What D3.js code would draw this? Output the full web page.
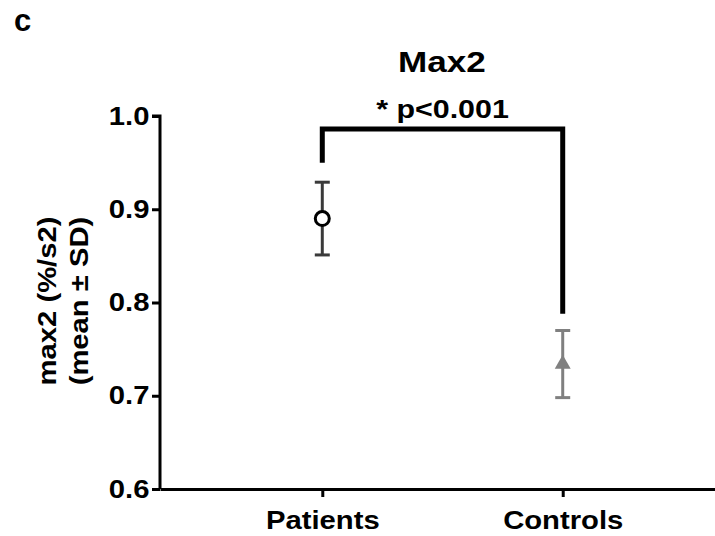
<!DOCTYPE html>
<html>
<head>
<meta charset="utf-8">
<script src="https://cdn.jsdelivr.net/npm/d3@7"></script>
<style>
  body { margin: 0; background: #fff; }
  text { font-family: "Liberation Sans", Arial, sans-serif; font-weight: bold; }
</style>
</head>
<body>
<div id="chart"></div>
<script>
// data
var groups = ["Patients", "Controls"];
var means = [0.890, 0.734];
var sds = [0.039, 0.036];
var colors = ["#3a3a3a", "#808080"];
var yTicks = [0.6, 0.7, 0.8, 0.9, 1.0];
// significance bracket: [top, left end, right end]
var bracket = [0.986, 0.95, 0.788];
var pLabel = "* p<0.001";

var W = 715, H = 536;
var wide = "scale(1.17,1)"; // the source font runs wide

var svg = d3.select("#chart").append("svg")
    .attr("width", W)
    .attr("height", H);

var x = d3.scalePoint()
    .domain(groups)
    .range([160, 725])
    .padding(0.675);

var y = d3.scaleLinear()
    .domain([0.6, 1.0])
    .range([489, 116]);

// y axis
var yAxis = svg.append("g")
    .attr("transform", "translate(160,0)")
    .call(d3.axisLeft(y).tickValues(yTicks).tickFormat(d3.format(".1f")).tickSize(8).tickPadding(1));
yAxis.select(".domain").attr("stroke-width", 3).attr("d", "M-8," + y(1.0) + "H0V" + y(0.6));
yAxis.selectAll(".tick line").attr("stroke-width", 3);
yAxis.selectAll("text").style("font-size", "25px").attr("fill", "#000").attr("transform", wide);

// x axis
var xAxis = svg.append("g")
    .attr("transform", "translate(0,489)")
    .call(d3.axisBottom(x).tickSize(8).tickPadding(14).tickSizeOuter(0));
xAxis.select(".domain").attr("stroke-width", 3);
xAxis.selectAll(".tick line").attr("stroke-width", 3);
xAxis.selectAll("text").style("font-size", "25px").attr("fill", "#000").attr("transform", wide);

// error bars
var bars = svg.append("g");
groups.forEach(function (g, i) {
    var cx = x(g), lo = y(means[i] - sds[i]), hi = y(means[i] + sds[i]);
    bars.append("line").attr("x1", cx).attr("x2", cx).attr("y1", lo).attr("y2", hi)
        .attr("stroke", colors[i]).attr("stroke-width", 3);
    [lo, hi].forEach(function (v) {
        bars.append("line").attr("x1", cx - 7.5).attr("x2", cx + 7.5).attr("y1", v).attr("y2", v)
            .attr("stroke", colors[i]).attr("stroke-width", 3);
    });
});

// means
svg.append("circle")
    .attr("cx", x("Patients")).attr("cy", y(means[0])).attr("r", 7)
    .attr("fill", "#fff").attr("stroke", "#000").attr("stroke-width", 3);
svg.append("path")
    .attr("d", d3.symbol().type(d3.symbolTriangle).size(110)())
    .attr("transform", "translate(" + x("Controls") + "," + y(means[1]) + ")")
    .attr("fill", colors[1]);

// bracket
svg.append("path")
    .attr("d", "M" + x("Patients") + "," + y(bracket[1]) + "V" + y(bracket[0]) +
        "H" + x("Controls") + "V" + y(bracket[2]))
    .attr("fill", "none").attr("stroke", "#000").attr("stroke-width", 5);

svg.append("text")
    .attr("transform", "translate(" + ((x("Patients") + x("Controls")) / 2) + ",118) " + wide)
    .attr("text-anchor", "middle").style("font-size", "26px")
    .text(pLabel);

// title
svg.append("text")
    .attr("transform", "translate(442,72) " + wide)
    .attr("text-anchor", "middle").style("font-size", "30px")
    .text("Max2");

// panel letter
svg.append("text")
    .attr("x", 14).attr("y", 31)
    .style("font-size", "31px")
    .text("c");

// y label
var yl = svg.append("text")
    .attr("transform", "translate(0,301) rotate(-90) " + wide)
    .attr("text-anchor", "middle").style("font-size", "25px");
yl.append("tspan").attr("x", 0).attr("y", 56).text("max2 (%/s2)");
yl.append("tspan").attr("x", 0).attr("y", 88).text("(mean \u00b1 SD)");
</script>
</body>
</html>
